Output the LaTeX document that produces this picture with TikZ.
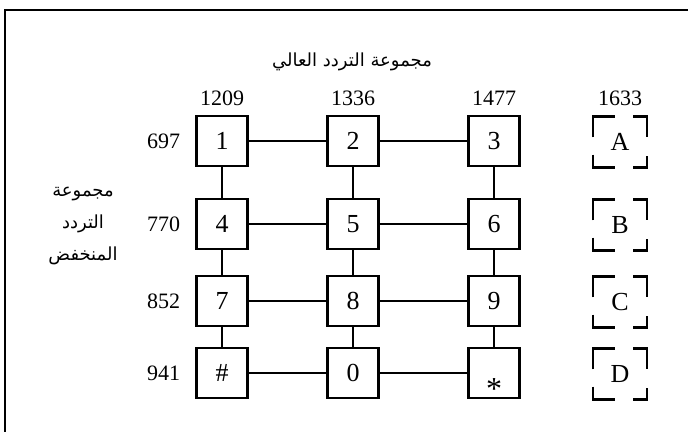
\documentclass[tikz,border=0pt]{standalone}
\usepackage{fontspec}
\setmainfont{Liberation Serif}
\newfontfamily\arabicfont[Script=Arabic]{DejaVu Sans}
\TeXXeTstate=1
\usetikzlibrary{positioning}

\begin{document}
\begin{tikzpicture}[
        x=1pt, y=-1pt,
        key/.style={draw,line width=2.5pt,minimum width=51pt,minimum height=50pt,inner sep=0pt,font=\fontsize{26}{26}\selectfont},
        extra/.style={minimum width=54pt,minimum height=51pt,inner sep=0pt,font=\fontsize{26}{26}\selectfont},
        corner/.style={line width=2.5pt},
        wire/.style={line width=2pt},
        freq/.style={inner sep=0pt,font=\fontsize{22}{22}\selectfont},
        arabic/.style={align=center,font=\arabicfont\fontsize{18}{32}\selectfont}
    ]
        \useasboundingbox (0,0) rectangle (688,432);
        \draw[line width=2.5pt] (688,10) -- (5,10) -- (5,432);

        % keys
        \node[key] (k1) at (222,141) {1};
        \node[key] (k2) at (353,141) {2};
        \node[key] (k3) at (494,141) {3};
        \node[key] (k4) at (222,224) {4};
        \node[key] (k5) at (353,224) {5};
        \node[key] (k6) at (494,224) {6};
        \node[key] (k7) at (222,301) {7};
        \node[key] (k8) at (353,301) {8};
        \node[key] (k9) at (494,301) {9};
        \node[key] (kh) at (222,373) {\#};
        \node[key] (k0) at (353,373) {0};
        \node[key] (ks) at (494,373) {\smash{\raisebox{-26pt}{\fontsize{32}{32}\selectfont *}}};

        % extra column
        \node[extra] (kA) at (620,142) {A};
        \node[extra] (kB) at (620,225) {B};
        \node[extra] (kC) at (620,302) {C};
        \node[extra] (kD) at (620,374) {D};
        \foreach \k in {kA,kB,kC,kD} {
            \draw[corner] ([yshift=-21pt]\k.north west) -- (\k.north west) -- ([xshift=22pt]\k.north west);
            \draw[corner] ([xshift=-14pt]\k.north east) -- (\k.north east) -- ([yshift=-21pt]\k.north east);
            \draw[corner] ([yshift=13pt]\k.south west) -- (\k.south west) -- ([xshift=22pt]\k.south west);
            \draw[corner] ([xshift=-14pt]\k.south east) -- (\k.south east) -- ([yshift=12pt]\k.south east);
        }

        % frequencies
        \node[freq,above=9pt of k1] (f1209) {1209};
        \node[freq,above=9pt of k2] (f1336) {1336};
        \node[freq,above=9pt of k3] (f1477) {1477};
        \node[freq,above=10pt of kA] (f1633) {1633};
        \node[freq,left=15pt of k1] (f697) {697};
        \node[freq,left=15pt of k4] (f770) {770};
        \node[freq,left=15pt of k7] (f852) {852};
        \node[freq,left=15pt of kh] (f941) {941};

        \node[arabic] (high) at (352,62) {\beginR مجموعة التردد العالي\endR};
        \node[arabic] (low) at (83,226) {\beginR مجموعة\endR\\\beginR التردد\endR\\\beginR المنخفض\endR};

        \draw[wire] (k1) -- (k2) -- (k3);
        \draw[wire] (k4) -- (k5) -- (k6);
        \draw[wire] (k7) -- (k8) -- (k9);
        \draw[wire] (kh) -- (k0) -- (ks);
        \draw[wire] (k1) -- (k4) -- (k7) -- (kh);
        \draw[wire] (k2) -- (k5) -- (k8) -- (k0);
        \draw[wire] (k3) -- (k6) -- (k9) -- (ks);
    \end{tikzpicture}
\end{document}
